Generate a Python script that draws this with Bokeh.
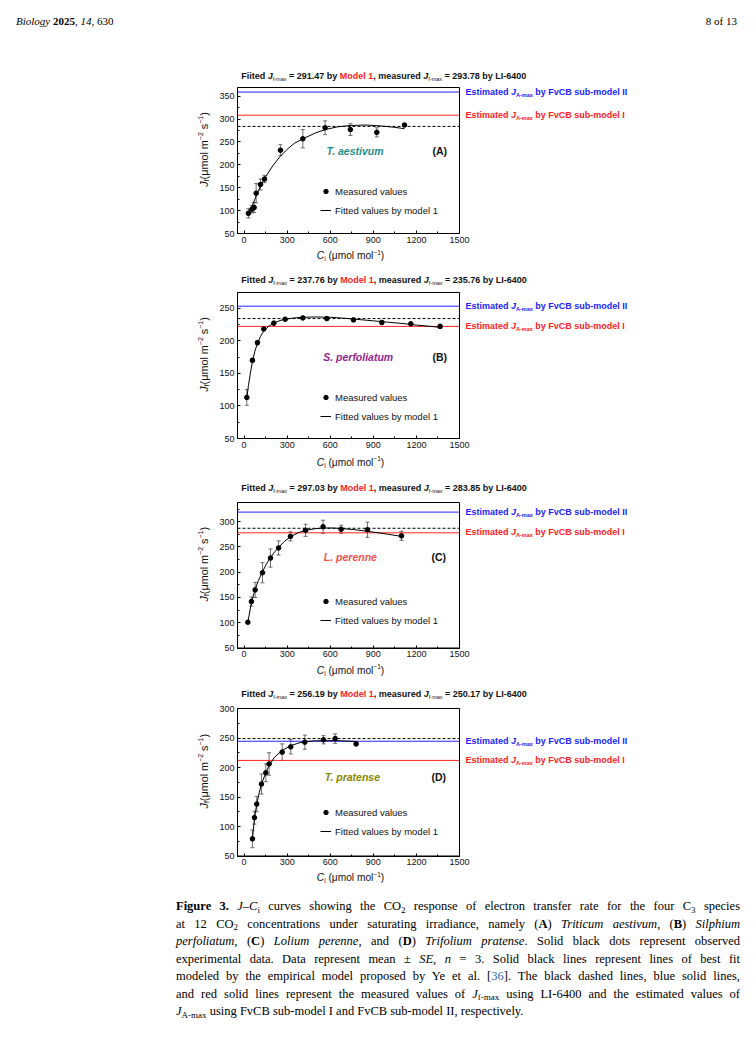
import math
from bokeh.plotting import figure
from bokeh.models import (Range1d, Label, Whisker, TeeHead, ColumnDataSource, BoxAnnotation,
                          SingleIntervalTicker, Legend, LegendItem, Div)
from bokeh.layouts import column
from bokeh.embed import file_html
from bokeh.resources import INLINE

# ---------------- data ----------------
panel_letters = ["(A)", "(B)", "(C)", "(D)"]
species = ["T. aestivum", "S. perfoliatum", "L. perenne", "T. pratense"]
species_colors = ["#1f8c8c", "#952590", "#f0524c", "#878600"]
fit_prefix = ["Fiited", "Fitted", "Fitted", "Fitted"]
fitted_jmax_text = ["291.47", "237.76", "297.03", "256.19"]
measured_jmax_text = ["293.78", "235.76", "283.85", "250.17"]

ci_A = [30, 54, 70, 84, 114, 142, 253, 409, 564, 740, 924, 1117]
j_A = [94, 103, 107, 138, 157, 169, 232, 257, 281, 277, 271, 287]
se_A = [10, 8, 11, 21, 12, 8, 12, 20, 15, 13, 10, 2]
fit_ci_A = [30, 50, 70, 85, 100, 115, 142, 200, 250, 300, 350, 409, 500, 564, 650, 740, 850, 950, 1050, 1117]
fit_j_A = [93, 106, 121, 133, 143, 155, 170, 198, 218, 234, 247, 257, 270, 277, 283, 286, 287, 285, 282, 279]

ci_B = [19, 58, 93, 137, 207, 286, 409, 576, 762, 959, 1161, 1365]
j_B = [113, 170, 197, 218, 227, 233, 235, 234, 232, 228, 226, 222]
se_B = [12, 3, 3, 2, 2, 2, 2, 2, 2, 3, 2, 3]
fit_ci_B = [19, 30, 45, 58, 75, 93, 115, 137, 170, 207, 250, 286, 350, 409, 500, 600, 700, 800, 900, 1000, 1100, 1200, 1300, 1365]
fit_j_B = [113, 131, 152, 168, 184, 196, 207, 215, 222, 227, 231, 233, 235, 236, 236.5, 236, 234.5, 232.5, 230.5, 228.5, 226.5, 224, 222, 220.5]

ci_C = [26, 51, 77, 128, 184, 240, 323, 428, 550, 676, 859, 1096]
j_C = [101, 142, 165, 199, 228, 248, 271, 283, 290, 285, 284, 272]
se_C = [2, 9, 15, 20, 18, 14, 9, 12, 13, 8, 15, 9]
fit_ci_C = [26, 51, 77, 100, 128, 155, 184, 212, 240, 280, 323, 375, 428, 490, 550, 620, 680, 760, 860, 960, 1096]
fit_j_C = [101, 140, 166, 184, 201, 216, 229, 240, 249, 261, 270, 278, 283, 286, 287.5, 287.5, 286.5, 284.5, 281, 277, 271]

ci_D = [58, 72, 88, 121, 151, 174, 265, 325, 423, 553, 634, 780]
j_D = [79, 115, 138, 172, 191, 206, 226, 235, 243, 247, 249, 240]
se_D = [15, 11, 13, 17, 15, 19, 14, 12, 12, 7, 8, 3]
fit_ci_D = [58, 72, 88, 105, 121, 151, 174, 210, 265, 325, 380, 423, 480, 553, 634, 700, 780]
fit_j_D = [79, 113, 138, 157, 172, 191, 203, 217, 229, 237, 241.5, 243.5, 245, 245.5, 245.5, 245, 244]

measured_line = [284, 234, 287, 249]      # black dashed: measured Jf-max (LI-6400)
fvcb1_line = [308.5, 222, 278, 212]       # red: FvCB sub-model I
fvcb2_line = [359, 253, 319, 244.5]       # blue: FvCB sub-model II
y_bottom = 50
y_top = [369, 274, 338, 300]
x_lo, x_hi = -46, 1500

series = [(ci_A, j_A, se_A, fit_ci_A, fit_j_A),
          (ci_B, j_B, se_B, fit_ci_B, fit_j_B),
          (ci_C, j_C, se_C, fit_ci_C, fit_j_C),
          (ci_D, j_D, se_D, fit_ci_D, fit_j_D)]

# ---------------- layout (page pixels) ----------------
FONT = "Liberation Sans"
SERIF = "Liberation Serif"
PAGE_W = 745
HEADER_H = 60
BANDS = [(60, 275), (275, 482), (482, 690), (690, 898)]   # figure top/bottom on page
BORDER_L, BORDER_B = 30, 14
BOX_L, BOX_R = 237, 459
BOX_TB = [(87, 233), (292, 438), (502, 647.5), (708, 855.5)]
TITLE_Y = [75, 279.3, 487.3, 693.8]
TITLE_X = 240.7
RIGHT_X = 465
SPECIES_XY = [(326, 150.7), (322.7, 356), (323.3, 556), (324.3, 776)]
LETTER_XY = [(432, 150.7), (432, 356), (431, 556), (431, 776)]
XLABEL_Y = [255, 461.7, 669.5, 877]
XLABEL_CX = 350
YLABEL_X = 203.3
YLABEL_RAISE = 11
LEG_X = 290
LEG_Y = [45, 46, 50, 47]
BLUE = "#2222ff"
RED = "#ff2222"
TXT = "#111111"


def _tbl(groups):
    d = {}
    for chars, w in groups:
        for ch in chars:
            d[ch] = w
    return d


REG = _tbl([
    (" !,./:;[]Ift", 278), ("ijl", 222), ("()-r", 333), ("0123456789abdeghnopqu?$#", 556),
    ("ckszvxyJ", 500), ("=+\u2212", 584), ("m", 833), ("w", 722), ("\u00b5\u03bc", 576),
    ("ABEKPSVXY", 667), ("CDHNRU", 722), ("FTZ", 611), ("GOQ", 778), ("L", 556), ("M", 833), ("W", 944),
])
BOLD = _tbl([
    (" ,.I", 278), ("ijl", 278), ("()-ft:", 333), ("r", 389),
    ("0123456789aceksvxy", 556), ("bdghnopqu", 611), ("z", 500), ("=+\u2212", 584),
    ("m", 889), ("w", 778), ("J", 556), ("\u00b5\u03bc", 611),
    ("EPSVXY", 667), ("ABCDHKNRU", 722), ("FTZL", 611), ("GOQ", 778), ("M", 833), ("W", 944),
])


def tw(s, size, style):
    t = BOLD if "bold" in style else REG
    return sum(t.get(c, 556) for c in s) * size / 1000.0


def runs_width(parts):
    return sum(tw(t, s, st) for (t, s, st, c, sh) in parts)


def put_runs(p, X, Y, px, py, parts, vertical=False):
    """Place a sequence of differently styled text runs starting at page pixel (px, py)."""
    acc = 0.0
    for (txt, size, style, color, shift) in parts:
        stripped = txt.lstrip(" ")
        acc += tw(txt[:len(txt) - len(stripped)], size, style)
        if stripped:
            if not vertical:
                lab = Label(x=X(px + acc), y=Y(py + shift), text=stripped)
            else:
                lab = Label(x=X(px + shift), y=Y(py - acc), text=stripped, angle=math.pi / 2)
            lab.text_font = FONT
            lab.text_font_size = "%.2fpx" % size
            lab.text_font_style = style
            lab.text_color = color
            lab.text_align = "left"
            lab.text_baseline = "middle"
            p.add_layout(lab)
        acc += tw(stripped, size, style)
    return acc


def make_panel(i):
    ci, jv, se, fci, fj = series[i]
    band_top, band_bot = BANDS[i]
    fig_h = band_bot - band_top
    frame_top = band_top
    frame_bot = band_bot - BORDER_B
    bt, bb = BOX_TB[i]
    yt = y_top[i]
    kx = (x_hi - x_lo) / (BOX_R - BOX_L)          # data units per pixel (x)
    ky = (yt - y_bottom) / (bb - bt)               # data units per pixel (y)
    xr0 = x_lo - (BOX_L - BORDER_L) * kx
    xr1 = xr0 + (PAGE_W - BORDER_L) * kx
    yr1 = yt + (bt - frame_top) * ky
    yr0 = y_bottom - (frame_bot - bb) * ky

    def X(px):
        return x_lo + (px - BOX_L) * kx

    def Y(py):
        return yt - (py - bt) * ky

    p = figure(width=PAGE_W, height=fig_h, min_border_left=BORDER_L, min_border_right=0,
               min_border_top=0, min_border_bottom=BORDER_B,
               x_range=Range1d(xr0, xr1), y_range=Range1d(yr0, yr1),
               output_backend="svg", toolbar_location=None)
    p.background_fill_color = "white"
    p.border_fill_color = "white"
    p.outline_line_color = None
    p.grid.visible = False
    xa, ya = p.xaxis[0], p.yaxis[0]
    xa.ticker = SingleIntervalTicker(interval=300, num_minor_ticks=2)
    ya.ticker = SingleIntervalTicker(interval=50, num_minor_ticks=2)
    xa.fixed_location = y_bottom
    xa.bounds = (x_lo, x_hi)
    ya.fixed_location = x_lo
    ya.bounds = (y_bottom, yt)
    for ax in (xa, ya):
        ax.major_tick_in = 3
        ax.major_tick_out = 0
        ax.minor_tick_in = 2
        ax.minor_tick_out = 0
        ax.axis_line_color = "black"
        ax.major_tick_line_color = "black"
        ax.minor_tick_line_color = "black"
        ax.major_label_text_font = FONT
        ax.major_label_text_font_size = "9px"
        ax.major_label_text_color = TXT
    xa.major_label_standoff = 3
    ya.major_label_standoff = 3

    # plot box
    p.add_layout(BoxAnnotation(left=x_lo, right=x_hi, bottom=y_bottom, top=yt,
                               fill_color=None, line_color="black", line_width=1, line_alpha=1))

    # reference lines
    p.segment(x0=[x_lo], x1=[x_hi], y0=[fvcb2_line[i]], y1=[fvcb2_line[i]], line_color=BLUE, line_width=1)
    p.segment(x0=[x_lo], x1=[x_hi], y0=[fvcb1_line[i]], y1=[fvcb1_line[i]], line_color=RED, line_width=1)
    p.segment(x0=[x_lo], x1=[x_hi], y0=[measured_line[i]], y1=[measured_line[i]],
              line_color="black", line_dash="3 2", line_width=1)

    src = ColumnDataSource(dict(x=ci, y=jv,
                                lo=[a - b for a, b in zip(jv, se)],
                                hi=[a + b for a, b in zip(jv, se)]))
    wcol = "#4a4a4a"
    p.add_layout(Whisker(source=src, base="x", upper="hi", lower="lo", dimension="height",
                         line_color=wcol, line_width=0.8,
                         upper_head=TeeHead(size=4, line_color=wcol, line_width=0.8),
                         lower_head=TeeHead(size=4, line_color=wcol, line_width=0.8)))
    fit = p.line(fci, fj, line_color="black", line_width=1)
    pts = p.scatter(x="x", y="y", source=src, size=4.6, color="black")

    leg = Legend(items=[LegendItem(label="Measured values", renderers=[pts]),
                        LegendItem(label="Fitted values by model 1", renderers=[fit])],
                 location=(LEG_X, LEG_Y[i]))
    leg.padding = 0
    leg.margin = 0
    leg.border_line_color = None
    leg.background_fill_alpha = 0
    leg.glyph_width = 11
    leg.glyph_height = 12
    leg.label_height = 12
    leg.spacing = 7
    leg.label_standoff = 4
    leg.label_text_font = FONT
    leg.label_text_font_size = "9.5px"
    leg.label_text_color = TXT
    p.add_layout(leg)

    # species + panel letter
    for txt, (px, py), style, col in [(species[i], SPECIES_XY[i], "bold italic", species_colors[i]),
                                      (panel_letters[i], LETTER_XY[i], "bold", TXT)]:
        p.add_layout(Label(x=X(px), y=Y(py), text=txt, text_font=FONT,
                           text_font_size="10.5px", text_font_style=style, text_color=col,
                           text_align="left", text_baseline="middle"))

    # title line above the box
    title = [(fit_prefix[i] + " ", 9, "bold", TXT, 0),
             ("J", 9, "bold italic", TXT, 0),
             ("f-max", 5.5, "normal", TXT, 3),
             (" = %s by " % fitted_jmax_text[i], 9, "bold", TXT, 0),
             ("Model 1", 9, "bold", RED, 0),
             (", measured ", 9, "bold", TXT, 0),
             ("J", 9, "bold italic", TXT, 0),
             ("f-max", 5.5, "normal", TXT, 3),
             (" = %s by LI-6400" % measured_jmax_text[i], 9, "bold", TXT, 0)]
    put_runs(p, X, Y, TITLE_X, TITLE_Y[i], title)

    # right side: estimated values
    for val, col, roman in [(fvcb2_line[i], BLUE, "II"), (fvcb1_line[i], RED, "I")]:
        parts = [("Estimated ", 9, "bold", col, 0),
                 ("J", 9, "bold italic", col, 0),
                 ("A-max", 5.5, "bold", col, 3),
                 (" by FvCB sub-model " + roman, 9, "bold", col, 0)]
        line_py = bt + (yt - val) / ky
        put_runs(p, X, Y, RIGHT_X, line_py - 0.5, parts)

    # x axis label
    xl = [("C", 10.2, "italic", TXT, 0), ("i", 6.5, "normal", TXT, 3),
          (" (\u03bcmol mol", 10.2, "normal", TXT, 0), ("\u22121", 6.5, "normal", TXT, -3.5),
          (")", 10.2, "normal", TXT, 0)]
    put_runs(p, X, Y, XLABEL_CX - runs_width(xl) / 2, XLABEL_Y[i], xl)

    # y axis label (vertical)
    yl = [("J", 10.8, "italic", TXT, 0), ("f", 7, "normal", TXT, 3),
          ("(\u03bcmol m", 10.8, "normal", TXT, 0), ("\u22122", 7, "normal", TXT, -3.8),
          (" s", 10.8, "normal", TXT, 0), ("\u22121", 7, "normal", TXT, -3.8),
          (")", 10.8, "normal", TXT, 0)]
    put_runs(p, X, Y, YLABEL_X, (bt + bb) / 2 - YLABEL_RAISE + runs_width(yl) / 2, yl, vertical=True)
    return p


panels = [make_panel(i) for i in range(4)]

header = Div(width=PAGE_W, height=HEADER_H, margin=(0, 0, 0, 0), text=(
    '<div style="position:relative;width:745px;height:60px;font-family:\'' + SERIF + '\',serif;'
    'font-size:11px;line-height:12px;color:#000;">'
    '<span style="position:absolute;left:16px;top:15px;white-space:nowrap;"><i>Biology</i> <b>2025</b>, <i>14</i>, 630</span>'
    '<span style="position:absolute;right:8px;top:15px;white-space:nowrap;">8 of 13</span></div>'))


def sub(t):
    return '<span style="font-size:72%;position:relative;top:0.3em;line-height:0">' + t + '</span>'


cap_lines = [
    '<b>Figure 3.</b> <i>J</i>\u2013<i>C</i>' + sub("i") + ' curves showing the CO' + sub("2") +
    ' response of electron transfer rate for the four C' + sub("3") + ' species',
    'at 12 CO' + sub("2") + ' concentrations under saturating irradiance, namely (<b>A</b>) <i>Triticum aestivum</i>, (<b>B</b>) <i>Silphium</i>',
    '<i>perfoliatum</i>, (<b>C</b>) <i>Lolium perenne</i>, and (<b>D</b>) <i>Trifolium pratense</i>. Solid black dots represent observed',
    'experimental data. Data represent mean \u00b1 <i>SE</i>, <i>n</i> = 3. Solid black lines represent lines of best fit',
    'modeled by the empirical model proposed by Ye et al. [<span style="color:#2b6cb8">36</span>]. The black dashed lines, blue solid lines,',
    'and red solid lines represent the measured values of <i>J</i>' + sub("f-max") + ' using LI-6400 and the estimated values of',
    '<i>J</i>' + sub("A-max") + ' using FvCB sub-model I and FvCB sub-model II, respectively.',
]
parts_html = []
for k, line in enumerate(cap_lines):
    al = "justify" if k < len(cap_lines) - 1 else "left"
    parts_html.append('<div style="height:17.5px;line-height:17.5px;text-align:' + al +
                      ';text-align-last:' + al + ';">' + line + '</div>')
caption = Div(width=PAGE_W, height=125, margin=(0, 0, 0, 0), text=(
    '<div style="margin-left:176px;width:564px;padding-top:0px;font-family:\'' + SERIF + '\',serif;'
    'font-size:12.5px;color:#000;">' + ''.join(parts_html) + '</div>'))

page = column(header, *panels, caption, spacing=0)
open("out.html", "w").write(file_html(page, INLINE))
